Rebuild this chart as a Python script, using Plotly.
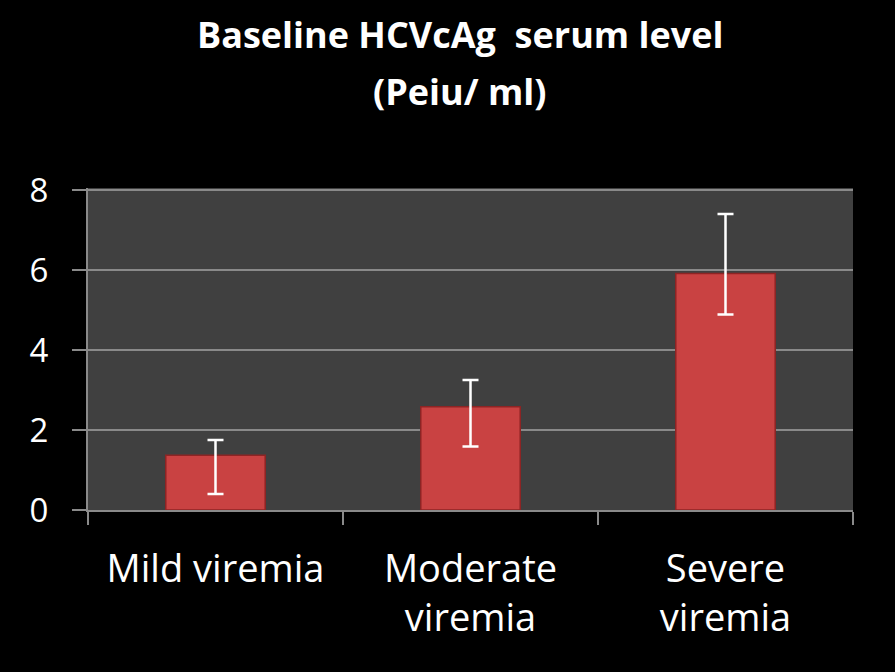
import plotly.graph_objects as go

categories = ["Mild viremia", "Moderate<br>viremia", "Severe<br>viremia"]
values = [1.37, 2.58, 5.91]
err_plus = [0.38, 0.67, 1.49]
err_minus = [0.97, 0.99, 1.02]
y_ticks = [0, 2, 4, 6, 8]
title_lines = ["Baseline HCVcAg\u00a0 serum level", "(Peiu/ ml)"]

FONT = "Open Sans, Lato, sans-serif"

fig = go.Figure()
fig.add_trace(go.Bar(
    x=categories, y=values, width=0.39,
    marker=dict(color="#c94242", line=dict(color="#8e2424", width=1.5)),
    error_y=dict(type="data", symmetric=False, array=err_plus, arrayminus=err_minus,
                 color="white", thickness=2.5, width=8),
))

fig.update_layout(
    width=895, height=672,
    paper_bgcolor="black", plot_bgcolor="#404040",
    margin=dict(l=88, r=42, t=188, b=162),
    showlegend=False,
    font=dict(family=FONT, color="white"),
    annotations=[
        dict(text="<b>%s</b>" % title_lines[0], x=0.486, xref="paper", y=1.477, yref="paper",
             xanchor="center", yanchor="middle", showarrow=False,
             font=dict(size=36, color="white", family=FONT)),
        dict(text="<b>%s</b>" % title_lines[1], x=0.486, xref="paper", y=1.300, yref="paper",
             xanchor="center", yanchor="middle", showarrow=False,
             font=dict(size=36, color="white", family=FONT)),
    ],
)
fig.update_xaxes(
    tickson="boundaries", ticks="outside", ticklen=13, tickwidth=2, tickcolor="#8a8a8a",
    showline=True, linecolor="#8a8a8a", linewidth=2, showgrid=False,
    tickfont=dict(size=38, color="white", family=FONT), ticklabelstandoff=24,
)
fig.update_yaxes(
    range=[0, 8.05], tickvals=y_ticks, ticks="outside", ticklen=14, tickwidth=2,
    tickcolor="#8a8a8a", showline=True, linecolor="#8a8a8a", linewidth=2,
    showgrid=True, gridcolor="#8a8a8a", gridwidth=2, zeroline=False,
    tickfont=dict(size=33, color="white", family=FONT), ticklabelstandoff=17,
)
fig.write_html("out.html", config={"displayModeBar": False},
               post_script="document.body.style.margin='0';")
